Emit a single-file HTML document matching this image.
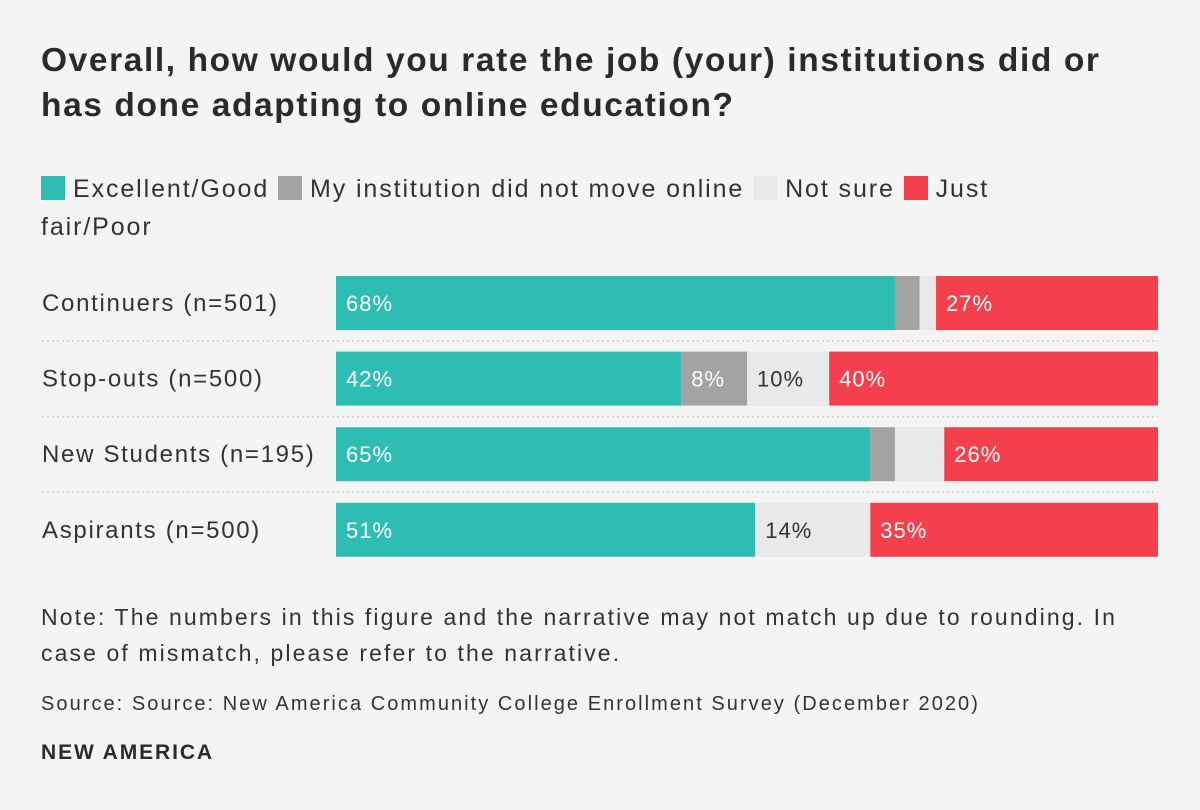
<!DOCTYPE html>
<html><head><meta charset="utf-8"><style>
body{margin:0;background:#f4f4f4;font-family:"Liberation Sans",sans-serif;color:#333;}
#wrap{position:relative;width:1200px;height:810px;overflow:hidden;}
h1{position:absolute;left:41px;top:38px;margin:0;font-size:33.5px;line-height:45px;font-weight:bold;color:#2a2a2a;width:1100px;letter-spacing:1.6px;}
.legend{position:absolute;left:41px;top:170px;width:1000px;font-size:25px;line-height:38px;color:#333;letter-spacing:1.9px;}
.sw{display:inline-block;width:24px;height:24px;vertical-align:-3px;margin-right:8px;}
.note{position:absolute;left:41px;top:599px;font-size:23px;line-height:36px;width:1120px;color:#333;letter-spacing:2.1px;}
.src{position:absolute;left:41px;top:693px;font-size:20px;color:#333;letter-spacing:2.05px;}
.brand{position:absolute;left:41px;top:741px;font-size:21px;font-weight:bold;color:#2a2a2a;letter-spacing:1.9px;}
svg text{font-family:"Liberation Sans",sans-serif;}
</style></head><body><div id="wrap">
<h1>Overall, how would you rate the job (your) institutions did or has done adapting to online education?</h1>
<div class="legend">
<span><span class="sw" style="background:#2ebdb3"></span>Excellent/Good </span>
<span><span class="sw" style="background:#a3a3a3"></span>My institution did not move online </span>
<span><span class="sw" style="background:#e9e9e9"></span>Not sure </span>
<span><span class="sw" style="background:#f4404c"></span>Just fair/Poor</span>
</div>
<svg id="chart" width="1200" height="810" style="position:absolute;left:0;top:0"></svg>
<div class="note">Note: The numbers in this figure and the narrative may not match up due to rounding. In case of mismatch, please refer to the narrative.</div>
<div class="src">Source: Source: New America Community College Enrollment Survey (December 2020)</div>
<div class="brand">NEW AMERICA</div>
</div>
<script>
const categories=["Continuers (n=501)","Stop-outs (n=500)","New Students (n=195)","Aspirants (n=500)"];
const excellentGood=[68,42,65,51];
const didNotMove=[3,8,3,0];
const notSure=[2,10,6,14];
const fairPoor=[27,40,26,35];
const seriesNames=["excellent-good","did-not-move","not-sure","fair-poor"];
const colors=["#2ebdb3","#a3a3a3","#e9e9e9","#f4404c"];
const textColors=["#fff","#fff","#333","#fff"];
const svg=document.getElementById('chart');
const NS="http://www.w3.org/2000/svg";
const x0=336,x1=1158;
function xs(v){return x0+(x1-x0)*v/100;}
function yRow(i){return 276+i*75.6;}
const barH=54;
const series=[excellentGood,didNotMove,notSure,fairPoor];
categories.forEach((c,i)=>{
  const y=yRow(i);
  const t=document.createElementNS(NS,'text');
  
  
  t.setAttribute('x',42);t.setAttribute('y',y+barH/2+8);
  t.setAttribute('font-size','24');t.setAttribute('fill','#333');t.setAttribute('letter-spacing','1.7');
  t.textContent=c;svg.appendChild(t);
  if(i<categories.length-1){
    const l=document.createElementNS(NS,'line');
    
    
    l.setAttribute('x1',42);l.setAttribute('x2',x1);
    l.setAttribute('y1',y+barH+11);l.setAttribute('y2',y+barH+11);
    l.setAttribute('stroke','#cfcfcf');l.setAttribute('stroke-width','1.5');l.setAttribute('stroke-dasharray','2 3');
    svg.appendChild(l);
  }
  const tot=series.reduce((a,s)=>a+s[i],0);
  let acc=0;
  series.forEach((s,k)=>{
    const v=s[i]*100/tot;
    if(v<=0)return;
    const r=document.createElementNS(NS,'rect');
    
    
    r.setAttribute('x',xs(acc));r.setAttribute('y',y);
    r.setAttribute('width',xs(acc+v)-xs(acc));r.setAttribute('height',barH);
    r.setAttribute('fill',colors[k]);svg.appendChild(r);
    if(s[i]>=7){
      const lt=document.createElementNS(NS,'text');
      
      
      lt.setAttribute('x',xs(acc)+10);lt.setAttribute('y',y+barH/2+8);
      lt.setAttribute('font-size','22');lt.setAttribute('fill',textColors[k]);lt.setAttribute('letter-spacing','1');
      lt.textContent=s[i]+'%';svg.appendChild(lt);
    }
    acc+=v;
  });
});
</script>
</body></html>
